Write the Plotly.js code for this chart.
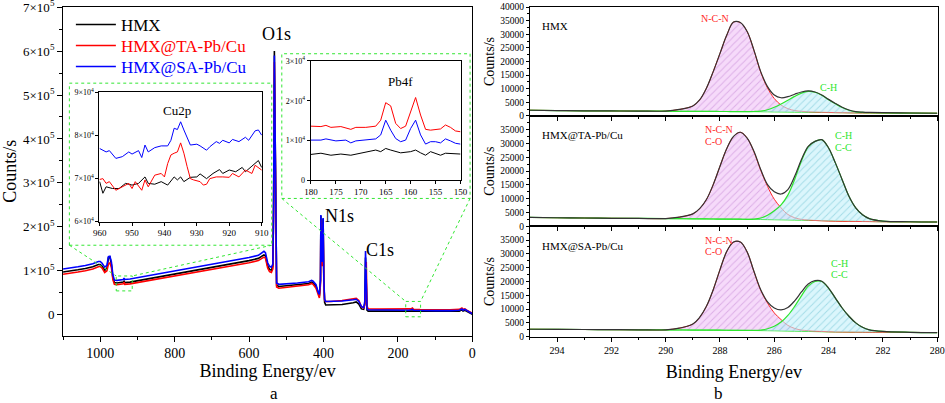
<!DOCTYPE html>
<html>
<head>
<meta charset="utf-8">
<script src="https://cdn.plot.ly/plotly-3.0.1.min.js"></script>
<style>html,body{margin:0;padding:0;background:#fff}#chart{width:945px;height:403px}</style>
</head>
<body>
<div id="chart"></div>
<script>
// ---------- Survey spectrum (panel a) ----------
const surveyX = [1100,1080,1060,1040,1020,1005,1000,995,988,982,978,974,970,966,962,955,945,938,936,934,920,900,850,800,750,700,650,600,575,565,560,556,550,545,540,536,534,532,530,528,526,520,500,470,440,432,428,420,414,411,408,407,406,404,401,399,397,394,380,350,320,312,305,298,292,289,287,285,283,280,250,200,170,165,161,158,140,100,60,35,28,25,20,15,10,5,0];
const surveyHMX = [97e3,99e3,102e3,105e3,109e3,114e3,114e3,110e3,101e3,105e3,130e3,131e3,114e3,84e3,73e3,72e3,73e3,74e3,76e3,73e3,74e3,77e3,85e3,93e3,101e3,108e3,116e3,123e3,128e3,133e3,136e3,134e3,111e3,103e3,101e3,110e3,260e3,600e3,430e3,150e3,67e3,64e3,66e3,68e3,71e3,74e3,72e3,64e3,46e3,42e3,78e3,225e3,150e3,118e3,218e3,75e3,28e3,22e3,22e3,23e3,27e3,29e3,24e3,13e3,12e3,25e3,130e3,30e3,10e3,8e3,8e3,7.5e3,7.5e3,8e3,8.5e3,7.5e3,7e3,7e3,7e3,8e3,11e3,8e3,10e3,7e3,5e3,3e3,1e3];
const surveyTA = [92e3,94e3,97e3,100e3,104e3,109e3,110e3,106e3,96e3,100e3,115e3,118e3,108e3,80e3,69e3,68e3,69e3,70e3,74e3,69e3,70e3,73e3,80e3,88e3,96e3,103e3,111e3,118e3,123e3,128e3,131e3,129e3,106e3,98e3,96e3,104e3,240e3,575e3,400e3,140e3,63e3,60e3,62e3,65e3,68e3,71e3,69e3,60e3,42e3,38e3,70e3,215e3,140e3,110e3,205e3,70e3,33e3,30e3,30e3,32e3,36e3,37e3,32e3,18e3,15e3,22e3,60e3,120e3,20e3,13e3,12.5e3,12e3,12e3,13e3,15e3,12e3,11.5e3,11e3,11e3,12e3,15e3,12e3,13e3,10e3,8e3,6e3,3e3];
const surveySA = [104e3,106e3,109e3,112e3,116e3,121e3,121e3,117e3,108e3,112e3,132e3,133e3,120e3,90e3,79e3,78e3,79e3,80e3,83e3,80e3,81e3,84e3,92e3,100e3,108e3,115e3,123e3,130e3,135e3,140e3,144e3,141e3,118e3,110e3,108e3,115e3,250e3,590e3,420e3,160e3,72e3,69e3,70e3,72e3,75e3,78e3,76e3,68e3,50e3,46e3,80e3,227e3,150e3,120e3,220e3,80e3,35e3,30e3,30e3,31e3,34e3,35e3,30e3,18e3,16e3,30e3,145e3,40e3,14e3,11e3,10.5e3,10e3,10e3,11e3,12e3,10e3,9.5e3,9e3,9e3,10e3,13e3,10e3,12e3,9e3,7e3,5e3,2e3];
const seriesNames = ['HMX','HMX@TA-Pb/Cu','HMX@SA-Pb/Cu'];
const surveyTickVals = [0,1e5,2e5,3e5,4e5,5e5,6e5,7e5];
const surveyTickText = ['0','1×10<sup>5</sup>','2×10<sup>5</sup>','3×10<sup>5</sup>','4×10<sup>5</sup>','5×10<sup>5</sup>','6×10<sup>5</sup>','7×10<sup>5</sup>'];
const surveyXTicks = [1000,800,600,400,200,0];

// ---------- Cu2p inset ----------
const cuX_HMX = [960,959,958,956,954,952,950,948,946,945,943,941,939,937,936,935,934,932,930,929,927,925,923,922,920,918,916,915,913,911,910];
const cuHMX = [69.3e3,66.6e3,68.1e3,67.7e3,67.7e3,68.9e3,68.5e3,68.9e3,70.4e3,68.9e3,68.7e3,69.3e3,68.5e3,70.4e3,69.7e3,70.4e3,69.3e3,70.3e3,70.4e3,71.1e3,70.0e3,71.2e3,72.1e3,71.2e3,72.0e3,71.6e3,72.6e3,71.6e3,72.9e3,74.2e3,72.6e3];
const cuX_TA = [960,959,958,957,955,953,951,950,949,947,946,945,943,941,940,939,938,937,936,935,934,933,932,931,929,928,927,926,924,922,920,919,917,915,913,912,911,910];
const cuTA = [69.8e3,70.0e3,68.9e3,69.3e3,67.3e3,68.1e3,68.9e3,67.7e3,69.3e3,67.3e3,69.7e3,68.1e3,70.8e3,71.2e3,70.4e3,73.5e3,75.5e3,75.9e3,76.2e3,78.3e3,75.9e3,72.8e3,70.0e3,69.7e3,69.3e3,68.5e3,68.7e3,70.0e3,70.4e3,70.4e3,70.3e3,71.2e3,70.4e3,72.0e3,71.2e3,73.1e3,72.6e3,72.0e3];
const cuX_SA = [960,958,957,955,953,951,950,948,947,946,945,943,941,939,938,937,936,935,934,933,932,930,929,927,926,924,923,922,920,919,917,915,914,912,911,910];
const cuSA = [77.0e3,76.2e3,76.5e3,74.7e3,75.1e3,76.2e3,75.7e3,76.5e3,74.9e3,77.8e3,76.2e3,77.2e3,77.6e3,77.6e3,78.9e3,81.7e3,81.4e3,83.2e3,81.3e3,79.7e3,77.8e3,78.0e3,77.6e3,76.6e3,77.4e3,78.6e3,78.2e3,78.9e3,78.3e3,79.1e3,78.6e3,79.6e3,78.9e3,81.1e3,81.3e3,80.1e3];
const cuTickVals = [6e4,7e4,8e4,9e4];
const cuTickText = ['6×10<sup>4</sup>','7×10<sup>4</sup>','8×10<sup>4</sup>','9×10<sup>4</sup>'];

// ---------- Pb4f inset ----------
const pbX_HMX = [180,178,176,174,172,170,168,167,166,165,164,162,160,159,158,157,156,155,154,153,151,150];
const pbHMX = [6.5e3,6.8e3,6.3e3,6.6e3,6.3e3,6.8e3,7.2e3,7.6e3,7.2e3,8.0e3,7.6e3,6.9e3,7.2e3,7.6e3,6.9e3,6.3e3,7.2e3,6.8e3,6.3e3,6.8e3,6.6e3,6.6e3];
const pbX_TA = [180,178,177,176,174,172,171,169,167,166,165,164,163,162,161,160,159,158,157,156,155,154,153,152,151,150];
const pbTA = [13.6e3,13.5e3,13.8e3,13.3e3,13.5e3,12.8e3,13.3e3,13.3e3,13.6e3,15.1e3,19.5e3,18.7e3,14.3e3,13.0e3,13.6e3,17.2e3,20.8e3,16.4e3,12.8e3,12.6e3,12.8e3,12.9e3,13.9e3,13.3e3,12.4e3,12.2e3];
const pbX_SA = [180,178,177,175,173,172,171,169,167,166,165,164,163,162,161,160,159,158,157,156,155,154,153,152,151,150];
const pbSA = [10.1e3,10.1e3,10.4e3,9.9e3,10.1e3,9.4e3,9.9e3,10.1e3,10.4e3,11.4e3,15.1e3,12.6e3,10.5e3,9.7e3,10.1e3,13.0e3,15.1e3,11.4e3,9.1e3,9.7e3,9.7e3,9.4e3,10.4e3,9.9e3,9.3e3,9.1e3];
const pbTickVals = [0,1e4,2e4,3e4];
const pbTickText = ['0','1×10<sup>4</sup>','2×10<sup>4</sup>','3×10<sup>4</sup>'];

// ---------- C1s fits (panel b) ----------
const fitX = [295,294,293,292,291,290,289.5,289,288.75,288.5,288.25,288,287.75,287.5,287.25,287,286.75,286.5,286.25,286,285.75,285.5,285.25,285,284.75,284.5,284.25,284,283.75,283.5,283.25,283,282.75,282.5,282,281,280];
const hmxBase  = [2100,2000,1900,1850,1800,1750,1720,1700,1690,1680,1670,1650,1640,1630,1620,1600,1580,1560,1540,1500,1480,1450,1420,1400,1370,1340,1300,1250,1220,1200,1170,1150,1130,1120,1100,1050,1000];
const hmxNCN   = [2100,2000,1900,1850,1800,1800,2400,3700,5900,10200,16300,23000,29700,34500,34300,31000,24100,16100,10300,6400,4000,2700,2000,1700,1550,1450,1380,1300,1250,1220,1180,1150,1130,1120,1100,1050,1000];
const hmxCH    = [2100,2000,1900,1850,1800,1750,1720,1700,1690,1680,1670,1650,1640,1630,1620,1620,1650,1800,2300,3200,4400,5800,7200,8400,9000,8700,7600,6000,4500,3100,2100,1500,1300,1200,1120,1050,1000];
const hmxEnv   = [2100,2000,1900,1850,1800,1800,2400,3700,5900,10200,16300,23000,29700,34500,34300,31000,24200,16300,10800,7700,6700,7100,8000,8800,9200,8800,7700,6100,4600,3200,2200,1600,1400,1300,1200,1100,1000];
const taBase   = [3200,3100,3000,2900,2850,2800,2750,2700,2680,2660,2640,2620,2600,2580,2560,2540,2500,2460,2420,2380,2340,2300,2250,2200,2150,2100,2050,2000,1950,1900,1850,1800,1760,1720,1650,1600,1550];
const taNCN    = [3200,3100,3000,2900,2850,2800,3300,4500,6400,9700,15100,21800,28200,32600,34100,32000,27000,20300,14500,9800,6700,4300,3100,2500,2300,2100,2000,1900,1850,1800,1780,1750,1720,1700,1650,1600,1550];
const taCH     = [3200,3100,3000,2900,2850,2800,2750,2700,2680,2660,2640,2620,2600,2580,2560,2540,2600,3000,4000,5600,7800,11300,17000,23700,28800,30800,31400,28400,23000,16900,10900,6700,4200,2800,1900,1650,1550];
const taEnv    = [3200,3100,3000,2900,2850,2800,3300,4500,6400,9700,15100,21800,28200,32600,34100,32000,27200,20600,15100,12500,11700,13300,18100,24200,29000,30800,31400,28400,23000,16900,10900,6700,4200,2800,1900,1650,1550];
const saBase   = [2700,2650,2600,2550,2500,2450,2430,2400,2390,2380,2370,2350,2330,2310,2290,2270,2240,2210,2180,2150,2100,2050,2000,1950,1900,1850,1800,1750,1720,1700,1680,1650,1630,1610,1600,1550,1500];
const saNCN    = [2700,2650,2600,2550,2500,2500,3100,4600,7000,11000,17000,24300,30900,34300,34300,30700,23600,16800,12200,8600,6200,4100,3000,2400,2200,2000,1900,1800,1750,1720,1700,1680,1650,1620,1600,1550,1500];
const saCH     = [2700,2650,2600,2550,2500,2450,2430,2400,2390,2380,2370,2350,2330,2310,2290,2270,2300,2400,2900,3800,5300,7700,11000,14800,18300,20000,20000,17500,14000,10400,7400,5000,3400,2500,1900,1600,1500];
const saEnv    = [2700,2650,2600,2550,2500,2500,3100,4600,7000,11000,17000,24300,30900,34300,34300,30700,23700,17000,12600,10400,9700,10600,13000,16200,19100,20300,20100,17600,14000,10400,7400,5000,3400,2500,1900,1600,1500];
const fitXTicks = [294,292,290,288,286,284,282,280];
const fitYTicksTop = [0,5000,10000,15000,20000,25000,30000,35000,40000];
const fitYTicks = [0,5000,10000,15000,20000,25000,30000,35000];

const FONT = 'Liberation Serif';
const C_BLACK = '#000000', C_RED = '#ff0000', C_BLUE = '#0000ff';
const C_FRED = '#ff2a2a', C_FGREEN = '#2ee62e', C_ENV = '#333333';
const BOXGREEN = '#33e633';

const traces = [];
const legendIds = ['legend','legend2','legend3'];
[[surveyHMX,C_BLACK],[surveyTA,C_RED],[surveySA,C_BLUE]].forEach((s,i)=>{
  traces.push({x:surveyX,y:s[0],type:'scatter',mode:'lines',name:seriesNames[i],legend:legendIds[i],
    line:{color:s[1],width:1.6},xaxis:'x',yaxis:'y',showlegend:true});
});
[[cuX_HMX,cuHMX,C_BLACK],[cuX_TA,cuTA,C_RED],[cuX_SA,cuSA,C_BLUE]].forEach(s=>{
  traces.push({x:s[0],y:s[1],type:'scatter',mode:'lines',line:{color:s[2],width:1},xaxis:'x2',yaxis:'y2',showlegend:false});
});
[[pbX_HMX,pbHMX,C_BLACK],[pbX_TA,pbTA,C_RED],[pbX_SA,pbSA,C_BLUE]].forEach(s=>{
  traces.push({x:s[0],y:s[1],type:'scatter',mode:'lines',line:{color:s[2],width:1},xaxis:'x3',yaxis:'y3',showlegend:false});
});
function addFit(base,ncn,ch,env,xa,ya){
  const common = {x:fitX,type:'scatter',mode:'lines',xaxis:xa,yaxis:ya,showlegend:false,hoverinfo:'skip'};
  traces.push(Object.assign({},common,{y:base,line:{color:C_FGREEN,width:1,shape:'spline'}}));
  traces.push(Object.assign({},common,{y:ncn,line:{color:C_FRED,width:1,shape:'spline'},fill:'tonexty',
    fillcolor:'rgba(240,196,246,0.75)',fillpattern:{shape:'/',fgcolor:'rgba(200,140,215,0.55)',bgcolor:'rgba(243,205,248,0.75)',size:5,solidity:0.2}}));
  traces.push(Object.assign({},common,{y:base,line:{color:'rgba(0,0,0,0)',width:0,shape:'spline'}}));
  traces.push(Object.assign({},common,{y:ch,line:{color:C_FGREEN,width:1.2,shape:'spline'},fill:'tonexty',
    fillcolor:'rgba(190,240,250,0.6)',fillpattern:{shape:'/',fgcolor:'rgba(120,200,215,0.55)',bgcolor:'rgba(195,240,250,0.6)',size:5,solidity:0.2}}));
  traces.push(Object.assign({},common,{y:env,line:{color:C_ENV,width:1.2,shape:'spline'}}));
}
addFit(hmxBase,hmxNCN,hmxCH,hmxEnv,'x4','y4');
addFit(taBase,taNCN,taCH,taEnv,'x5','y5');
addFit(saBase,saNCN,saCH,saEnv,'x6','y6');

const axBase = {showline:true,linecolor:'#000',linewidth:1,mirror:true,ticks:'outside',tickcolor:'#000',
  showgrid:false,zeroline:false,automargin:false,exponentformat:'none',separatethousands:false,
  ticklabeloverflow:'allow',tickfont:{family:FONT,color:'#000'}};
function ax(o){return Object.assign({},axBase,o);}
const minorX = {dtick:1,tick0:0,ticklen:2,ticks:'outside',tickcolor:'#000'};
const minorY = {dtick:2500,ticklen:2,ticks:'outside',tickcolor:'#000'};
function leg(yPx,color){
  return {x:0.075,y:1-yPx/403,xanchor:'left',yanchor:'middle',bgcolor:'rgba(0,0,0,0)',borderwidth:0,
    font:{family:FONT,size:17,color:color},itemwidth:40};
}

const xR = [0.5608,0.9923];
const layout = {
  width:945,height:403,margin:{l:0,r:0,t:0,b:0},paper_bgcolor:'#fff',plot_bgcolor:'#fff',
  font:{family:FONT,color:'#000'},
  showlegend:true,
  legend:leg(25,C_BLACK),legend2:leg(46,C_RED),legend3:leg(67,C_BLUE),
  xaxis:ax({domain:[0.0667,0.4998],range:[1100,0],anchor:'y',tickmode:'array',tickvals:surveyXTicks,ticklen:5,
    tickfont:{family:FONT,size:14},minor:{tickvals:[1100,900,700,500,300,100],ticklen:3,ticks:'outside',tickcolor:'#000'},
    title:{text:'Binding Energy/ev',font:{family:FONT,size:18},standoff:2}}),
  yaxis:ax({domain:[0.167,0.9826],range:[-0.48e5,7.004e5],anchor:'x',tickmode:'array',tickvals:surveyTickVals,ticktext:surveyTickText,
    ticklen:5,tickfont:{family:FONT,size:13},minor:{tickvals:[0.5e5,1.5e5,2.5e5,3.5e5,4.5e5,5.5e5,6.5e5],ticklen:3,ticks:'outside',tickcolor:'#000'},
    title:{text:'Counts/s',font:{family:FONT,size:18},standoff:6}}),
  xaxis2:ax({domain:[0.1051,0.2772],range:[960.1,909.9],anchor:'y2',tickmode:'array',tickvals:[960,950,940,930,920,910],ticklen:3,tickfont:{family:FONT,size:9}}),
  yaxis2:ax({domain:[0.4499,0.771],range:[6e4,9.005e4],anchor:'x2',tickmode:'array',tickvals:cuTickVals,ticktext:cuTickText,ticklen:3,tickfont:{family:FONT,size:8}}),
  xaxis3:ax({domain:[0.3288,0.4875],range:[180.05,149.95],anchor:'y3',tickmode:'array',tickvals:[180,175,170,165,160,155,150],ticklen:3,tickfont:{family:FONT,size:9}}),
  yaxis3:ax({domain:[0.5526,0.8494],range:[0,3.005e4],anchor:'x3',tickmode:'array',tickvals:pbTickVals,ticktext:pbTickText,ticklen:3,tickfont:{family:FONT,size:8}}),
  xaxis4:ax({domain:xR,range:[295,279.98],anchor:'y4',tickmode:'array',tickvals:fitXTicks,showticklabels:false,ticklen:4,minor:minorX}),
  yaxis4:ax({domain:[0.7122,0.9826],range:[0,40020],anchor:'x4',tickmode:'array',tickvals:fitYTicksTop,ticktext:fitYTicksTop.map(String),ticklen:3,
    tickfont:{family:FONT,size:9.5},minor:minorY,title:{text:'Counts/s',font:{family:FONT,size:14},standoff:2}}),
  xaxis5:ax({domain:xR,range:[295,279.98],anchor:'y5',tickmode:'array',tickvals:fitXTicks,showticklabels:false,ticklen:4,minor:minorX}),
  yaxis5:ax({domain:[0.4385,0.7122],range:[0,40000],anchor:'x5',tickmode:'array',tickvals:fitYTicks,ticktext:fitYTicks.map(String),ticklen:3,
    tickfont:{family:FONT,size:9.5},minor:minorY,title:{text:'Counts/s',font:{family:FONT,size:14},standoff:2}}),
  xaxis6:ax({domain:xR,range:[295,279.98],anchor:'y6',tickmode:'array',tickvals:fitXTicks,ticklen:4,tickfont:{family:FONT,size:10},minor:minorX,
    title:{text:'Binding Energy/ev',font:{family:FONT,size:18},standoff:10}}),
  yaxis6:ax({domain:[0.1645,0.4385],range:[0,40000],anchor:'x6',tickmode:'array',tickvals:fitYTicks,ticktext:fitYTicks.map(String),ticklen:3,
    tickfont:{family:FONT,size:9.5},minor:minorY,title:{text:'Counts/s',font:{family:FONT,size:14},standoff:2}}),
  shapes:[
    {type:'rect',xref:'x',yref:'y',x0:1083,x1:539,y0:1.58e5,y1:5.27e5,line:{color:BOXGREEN,width:1,dash:'dot'}},
    {type:'rect',xref:'x',yref:'y',x0:957,x1:914,y0:0.54e5,y1:0.88e5,line:{color:BOXGREEN,width:1,dash:'dot'}},
    {type:'line',xref:'x',yref:'y',x0:1083,y0:1.58e5,x1:957,y1:0.88e5,line:{color:BOXGREEN,width:1,dash:'dot'}},
    {type:'line',xref:'x',yref:'y',x0:539,y0:1.58e5,x1:914,y1:0.88e5,line:{color:BOXGREEN,width:1,dash:'dot'}},
    {type:'rect',xref:'x',yref:'y',x0:512,x1:6,y0:2.645e5,y1:5.94e5,line:{color:BOXGREEN,width:1,dash:'dot'}},
    {type:'rect',xref:'x',yref:'y',x0:179,x1:139,y0:-0.05e5,y1:0.3e5,line:{color:BOXGREEN,width:1,dash:'dot'}},
    {type:'line',xref:'x',yref:'y',x0:512,y0:2.645e5,x1:179,y1:0.3e5,line:{color:BOXGREEN,width:1,dash:'dot'}},
    {type:'line',xref:'x',yref:'y',x0:6,y0:2.645e5,x1:139,y1:0.3e5,line:{color:BOXGREEN,width:1,dash:'dot'}}
  ],
  annotations:[
    {text:'O1s',xref:'x',yref:'y',x:525,y:6.4e5,showarrow:false,font:{family:FONT,size:18}},
    {text:'N1s',xref:'x',yref:'y',x:358,y:2.24e5,showarrow:false,font:{family:FONT,size:18}},
    {text:'C1s',xref:'x',yref:'y',x:248,y:1.47e5,showarrow:false,font:{family:FONT,size:18}},
    {text:'Cu2p',xref:'x2',yref:'y2',x:936,y:8.59e4,showarrow:false,font:{family:FONT,size:13}},
    {text:'Pb4f',xref:'x3',yref:'y3',x:162,y:2.47e4,showarrow:false,font:{family:FONT,size:13}},
    {text:'a',xref:'paper',yref:'paper',x:0.2835,y:(403-393)/403,yanchor:'middle',showarrow:false,font:{family:FONT,size:17}},
    {text:'b',xref:'paper',yref:'paper',x:0.7677,y:(403-393)/403,yanchor:'middle',showarrow:false,font:{family:FONT,size:17}},
    {text:'HMX',xref:'x4',yref:'y4',x:294.63,y:33100,xanchor:'left',showarrow:false,font:{family:FONT,size:11}},
    {text:'N-C-N',xref:'x4',yref:'y4',x:288.2,y:35900,showarrow:false,font:{family:FONT,size:10,color:C_FRED}},
    {text:'C-H',xref:'x4',yref:'y4',x:284.0,y:10300,showarrow:false,font:{family:FONT,size:10,color:C_FGREEN}},
    {text:'HMX@TA-Pb/Cu',xref:'x5',yref:'y5',x:294.63,y:33200,xanchor:'left',showarrow:false,font:{family:FONT,size:11}},
    {text:'N-C-N',xref:'x5',yref:'y5',x:288.63,y:35000,xanchor:'left',showarrow:false,font:{family:FONT,size:10,color:C_FRED}},
    {text:'C-O',xref:'x5',yref:'y5',x:288.63,y:30600,xanchor:'left',showarrow:false,font:{family:FONT,size:10,color:C_FRED}},
    {text:'C-H',xref:'x5',yref:'y5',x:283.85,y:32900,xanchor:'left',showarrow:false,font:{family:FONT,size:10,color:C_FGREEN}},
    {text:'C-C',xref:'x5',yref:'y5',x:283.85,y:28600,xanchor:'left',showarrow:false,font:{family:FONT,size:10,color:C_FGREEN}},
    {text:'HMX@SA-Pb/Cu',xref:'x6',yref:'y6',x:294.63,y:32900,xanchor:'left',showarrow:false,font:{family:FONT,size:11}},
    {text:'N-C-N',xref:'x6',yref:'y6',x:288.63,y:35000,xanchor:'left',showarrow:false,font:{family:FONT,size:10,color:C_FRED}},
    {text:'C-O',xref:'x6',yref:'y6',x:288.63,y:30800,xanchor:'left',showarrow:false,font:{family:FONT,size:10,color:C_FRED}},
    {text:'C-H',xref:'x6',yref:'y6',x:284.0,y:26600,xanchor:'left',showarrow:false,font:{family:FONT,size:10,color:C_FGREEN}},
    {text:'C-C',xref:'x6',yref:'y6',x:284.0,y:22400,xanchor:'left',showarrow:false,font:{family:FONT,size:10,color:C_FGREEN}}
  ]
};

Plotly.newPlot('chart',traces,layout,{displayModeBar:false,staticPlot:true});
</script>
</body>
</html>
